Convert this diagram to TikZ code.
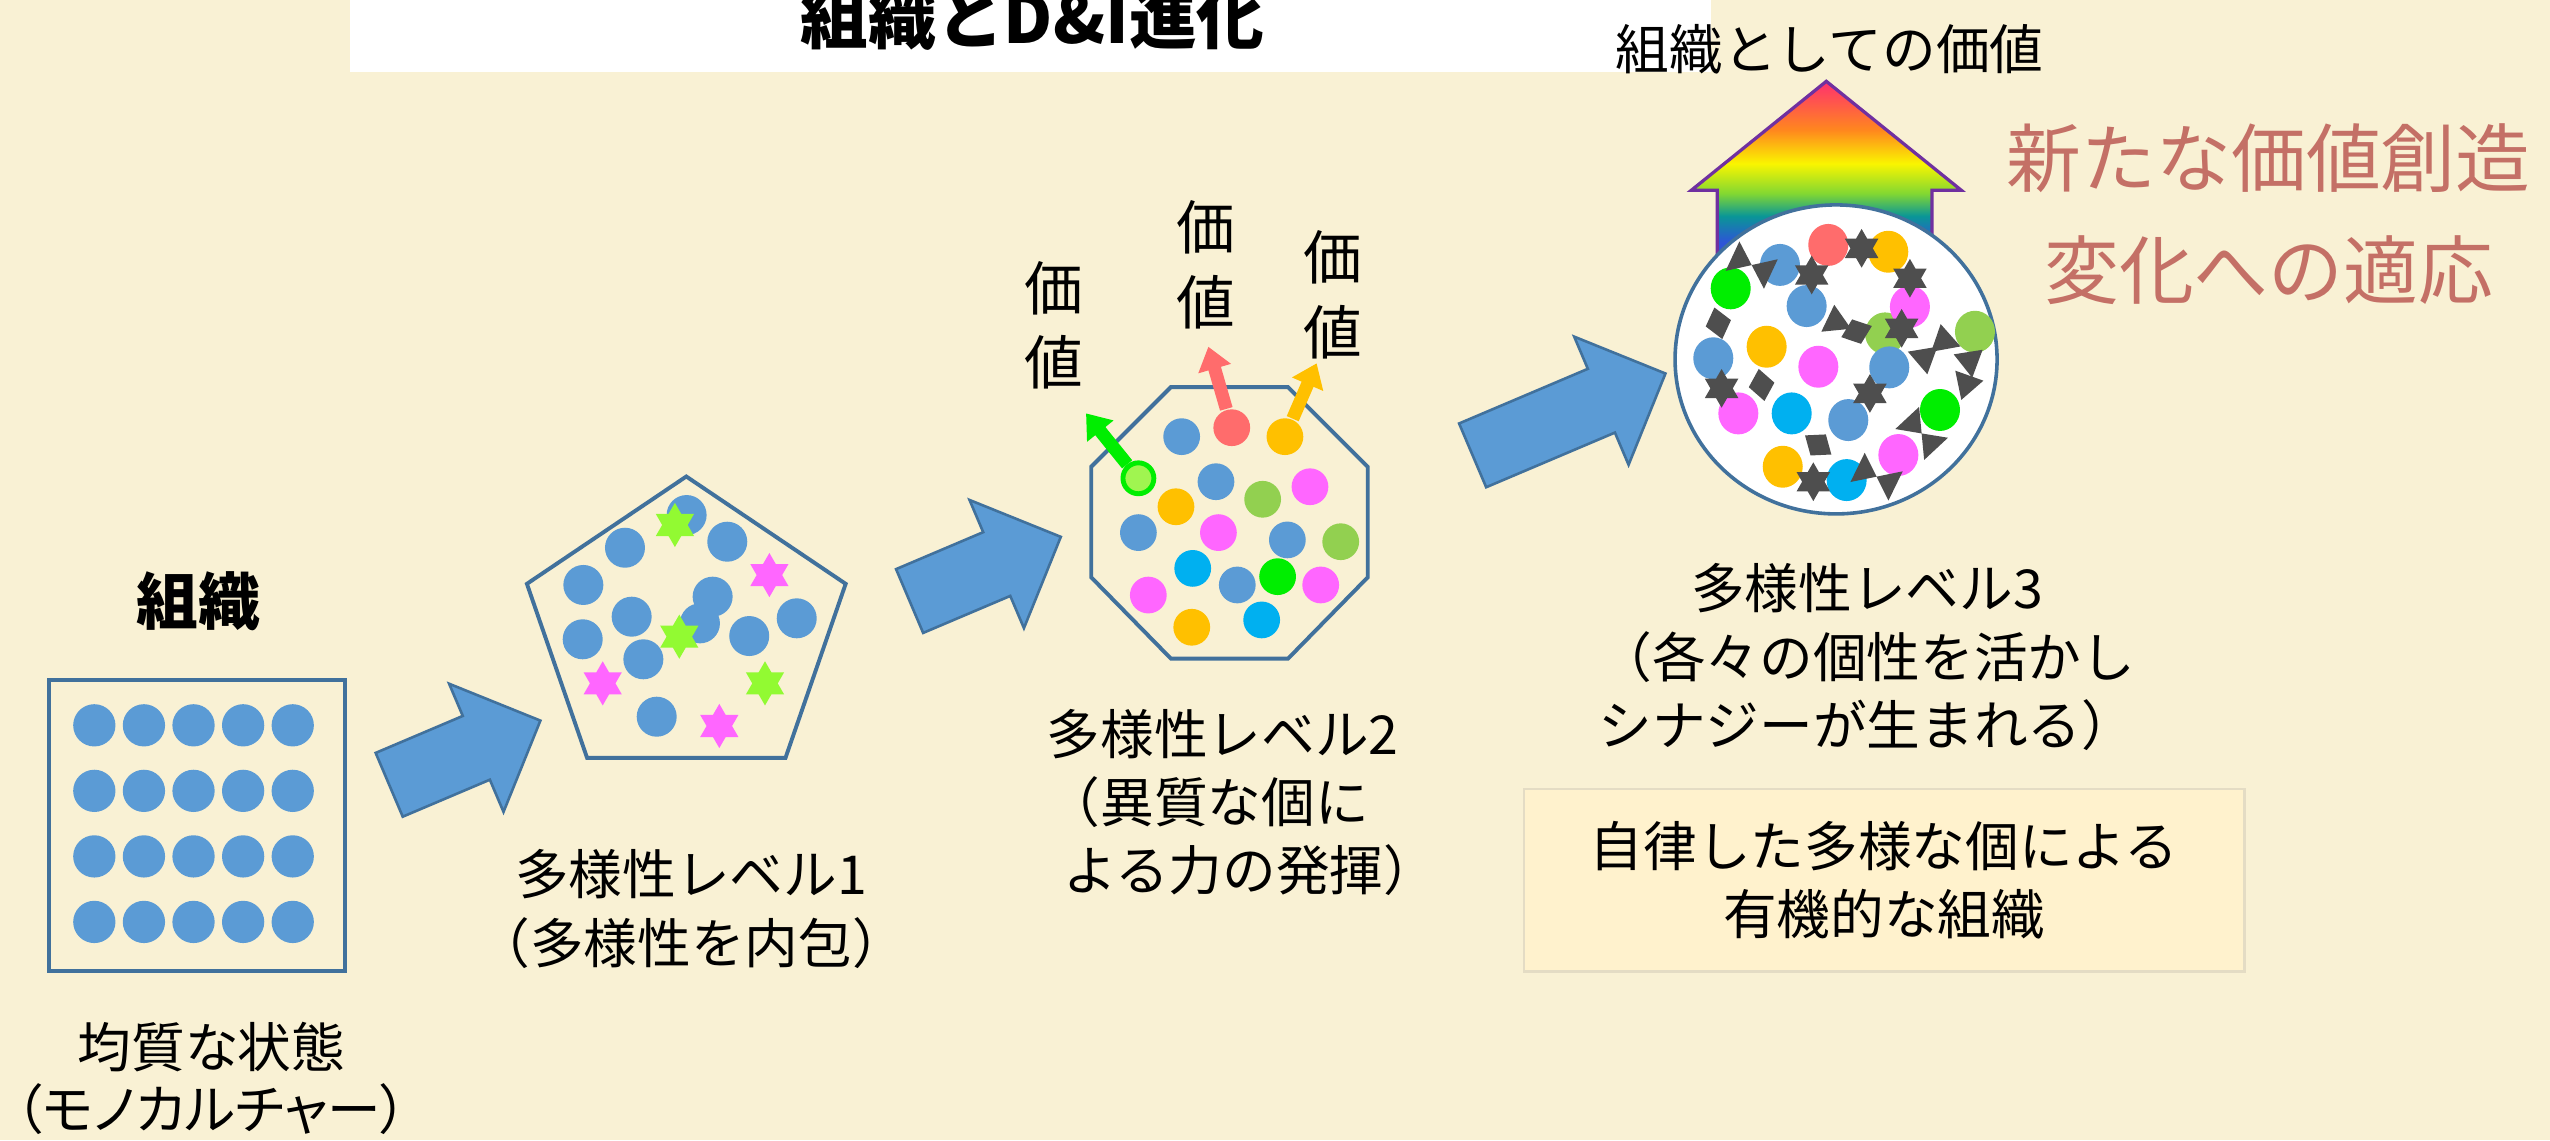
\documentclass[tikz,border=0pt]{standalone}
\usepackage{fontspec}
\setmainfont{Noto Sans CJK JP}
\usetikzlibrary{shapes.arrows,arrows.meta}

\definecolor{paper}{RGB}{249,241,212}
\definecolor{notebox}{RGB}{255,242,205}
\definecolor{noteedge}{RGB}{228,220,196}
\definecolor{frameblue}{RGB}{65,113,156}
\definecolor{dotblue}{RGB}{91,155,213}
\definecolor{dotred}{RGB}{255,108,108}
\definecolor{dotorange}{RGB}{255,192,0}
\definecolor{dotpink}{RGB}{255,102,255}
\definecolor{dotolive}{RGB}{146,208,80}
\definecolor{dotgreen}{RGB}{0,238,0}
\definecolor{dotcyan}{RGB}{0,176,240}
\definecolor{spotlime}{RGB}{160,245,80}
\definecolor{starlime}{RGB}{146,250,50}
\definecolor{linkgray}{RGB}{78,78,78}
\definecolor{slogred}{RGB}{196,112,102}
\definecolor{rbBlue}{RGB}{45,85,215}
\definecolor{rbTeal}{RGB}{10,150,150}
\definecolor{rbGreen}{RGB}{130,215,50}
\definecolor{rbYellow}{RGB}{250,245,0}
\definecolor{rbOrange}{RGB}{255,135,30}
\definecolor{rbRed}{RGB}{255,55,105}
\definecolor{rbEdge}{RGB}{112,48,160}

% rainbow for the value arrow, blue at the foot, red at the tip
\pgfdeclareverticalshading{rainbow}{100bp}{color(0bp)=(rbBlue); color(32bp)=(rbBlue); color(39bp)=(rbTeal); color(45bp)=(rbGreen); color(53bp)=(rbYellow); color(62bp)=(rbOrange); color(74bp)=(rbRed); color(100bp)=(rbRed)}

\newcommand\ttlfont{\bfseries\fontsize{20.8pt}{24pt}\selectfont}
\newcommand\orgfont{\bfseries\fontsize{19pt}{22pt}\selectfont}
\newcommand\lblfont{\fontsize{16.5pt}{21pt}\selectfont}
\newcommand\valfont{\fontsize{18pt}{23pt}\selectfont}
\newcommand\slogfont{\fontsize{23pt}{34.5pt}\selectfont}

\tikzset{every picture/.style={line width=0.75pt}}
\tikzset{
  stageline/.style={draw=frameblue, line width=1.2pt},
  bluearrow/.style={single arrow, draw=frameblue, fill=dotblue, line width=0.8pt,
    inner xsep=0pt, inner ysep=10.25pt, single arrow head extend=10.75pt,
    single arrow tip angle=90},
  spot/.style={circle, inner sep=0pt, minimum size=11.3pt},
  valarrow/.style={line width=4pt, -{Triangle[width=10pt,length=7pt]}},
  hexstar/.pic={\fill[#1] (90:14) -- (210:14) -- (330:14) -- cycle
                          (270:14) -- (30:14) -- (150:14) -- cycle;},
  bowtie/.pic={\fill[linkgray] (-13,-10) -- (0,0) -- (-13,10) -- cycle
                               (13,-10) -- (0,0) -- (13,10) -- cycle;},
  wedge/.pic={\fill[linkgray] (9,0) -- (-7,-9) -- (-7,9) -- cycle;},
  gem/.pic={\fill[linkgray] (-10,0) -- (0,-8) -- (10,0) -- (0,8) -- cycle;},
}

\begin{document}
\begin{tikzpicture}[x=0.5pt,y=0.5pt,yscale=-1,xscale=1]
\useasboundingbox (0,0) rectangle (1568,701);
\fill[paper] (0,0) rectangle (1568,701);

%Shape: title strip
\fill[white] (215,-5) rectangle (1052,44);
\node[font=\ttlfont, anchor=base] (title) at (635,27) {組織とD\&I進化};

% ---- homogeneous organisation ----
\node[font=\orgfont] (org) at (122,370) {組織};
\draw[stageline] (30,418) rectangle (212,597);
\foreach \i in {0,...,4}
  \foreach \j in {0,...,3}
    \fill[dotblue] (58+30.5*\i,446+40.3*\j) circle (13);
\node[font={\fontsize{16.5pt}{19pt}\selectfont\addfontfeatures{RawFeature=+palt}}, align=center, inner sep=0pt] (mono) at (130,663) {均質な状態\\（モノカルチャー）};

\node[bluearrow, minimum height=50.5pt, rotate=23] (stepA) at (276,467) {};

% ---- level 1: pentagon ----
\draw[stageline] (422,293) -- (520,359) -- (483,466) -- (361,466) -- (324,359) -- cycle;
\foreach \x/\y in {422.2/316.7, 384.3/336.8, 447.2/333.1, 358.7/359.7, 438.2/366.9,
                   388.4/379.2, 430.4/383.3, 489.9/380.2, 358.3/393.1, 460.7/391.1,
                   395.6/405.4, 403.8/440.7}
  \fill[dotblue] (\x,\y) circle (12.3);
\foreach \x/\y/\c in {415/322.8/starlime, 417.7/391.5/starlime, 470.4/420.2/starlime,
                      473.1/353.6/dotpink, 370.6/420.2/dotpink, 442.3/446.4/dotpink}
  \pic[scale=0.97] at (\x,\y) {hexstar=\c};
\node[font=\lblfont, align=center] (lvA) at (425,559) {多様性レベル1\\（多様性を内包）};

\node[bluearrow, minimum height=50.5pt, rotate=23] (stepB) at (596,354) {};

% ---- level 2: octagon ----
\draw[stageline] (720,238) -- (792,238) -- (841,287) -- (841,355) -- (792,405) -- (720,405) -- (671,355) -- (671,287) -- cycle;
\foreach \x/\y/\c in {726.6/268.5/dotblue, 747.7/296.2/dotblue, 805.5/299.3/dotpink,
                      776.4/307.0/dotolive, 723.1/311.6/dotorange, 700/327.5/dotblue,
                      749.2/327.5/dotpink, 791.6/332.0/dotblue, 824.4/333.1/dotolive,
                      733.4/349.5/dotcyan, 760.8/359.7/dotblue, 785.6/354.6/dotgreen,
                      812.1/359.7/dotpink, 706.1/365.9/dotpink, 732.8/385.7/dotorange,
                      775.8/381.2/dotcyan}
  \fill[\c] (\x,\y) circle (11.3);
\node[spot, fill=dotred] (redspot) at (757.4,263) {};
\node[spot, fill=dotorange] (orangespot) at (790.1,268.5) {};
\node[spot, fill=spotlime, draw=dotgreen, line width=1.5pt, minimum size=9.5pt] (greenspot) at (700,294.1) {};
\coordinate (redtip) at (743,213.2);
\coordinate (orangetip) at (809.6,223.4);
\coordinate (greentip) at (667.8,254.2);
\draw[valarrow, dotred] (redspot) -- (redtip);
\draw[valarrow, dotorange] (orangespot) -- (orangetip);
\draw[valarrow, dotgreen] (greenspot) -- (greentip);
\node[font=\valfont, align=center] (valA) at (648,200) {価\\値};
\node[font=\valfont, align=center] (valB) at (741.5,163) {価\\値};
\node[font=\valfont, align=center] (valC) at (819.4,181.4) {価\\値};
\node[font=\lblfont, align=left, anchor=west, inner sep=0pt] (lvB) at (643,493.5) {多様性レベル2\\（異質な個に\\\hspace{0.3em}よる力の発揮）};

\node[bluearrow, minimum height=64.4pt, rotate=23] (stepC) at (955,259) {};

% ---- level 3: circle with rainbow arrow ----
\node[font=\lblfont] (worth) at (1125,30) {組織としての価値};
\shade[shading=rainbow, draw=rbEdge, line width=1pt]
  (1123,50) -- (1206,117) -- (1188,117) -- (1188,165) -- (1056,165) -- (1056,117) -- (1040,117) -- cycle;
\filldraw[fill=white, draw=frameblue, line width=1.1pt] (1129,221) ellipse (99 and 95);
\foreach \x/\y/\c in {1124.2/150.6/dotred, 1161.1/154.8/dotorange, 1094.5/162.9/dotblue,
                      1064.2/177.3/dotgreen, 1110.9/188.2/dotblue, 1159.1/205/dotolive,
                      1174.4/188.6/dotpink, 1214.4/204/dotolive, 1086.3/213.2/dotorange,
                      1053.5/220.3/dotblue, 1118.1/225.5/dotpink, 1161.7/225.9/dotblue,
                      1068.9/254.2/dotpink, 1101.7/254.2/dotcyan, 1136.5/258.3/dotblue,
                      1192.9/252.1/dotgreen, 1167.3/279.8/dotpink, 1096.2/287/dotorange,
                      1135.5/295.2/dotcyan}
  \fill[\c] (\x,\y) ellipse (12.3 and 12.9);
% links between the members
\foreach \x/\y in {1114/169.1, 1144.7/152.7, 1174.4/171.1, 1169.3/201.9, 1115/296.2,
                   1149.8/241.9, 1058.6/238.8}
  \pic[scale=0.85] at (\x,\y) {hexstar=linkgray};
\foreach \x/\y/\a in {1077.1/163/-25, 1181.6/266.5/133, 1153.9/293.1/154}
  \pic[rotate=\a] at (\x,\y) {bowtie};
\foreach \x/\y/\a in {1127.3/198.8/-145, 1181.6/219.3/160, 1197/210.1/-19, 1211.3/223.4/-81, 1208.2/234.7/131}
  \pic[rotate=\a] at (\x,\y) {wedge};
\foreach \x/\y/\a in {1141.6/203.9/20, 1118/273.6/-36, 1056.6/198.8/104, 1083.2/236.7/100}
  \pic[rotate=\a] at (\x,\y) {gem};

\node[font=\slogfont, text=slogred, align=center] (slogan) at (1395,131.5) {新たな価値創造\\変化への適応};
\node[font=\lblfont, align=center] (lvC) at (1148,404) {多様性レベル3\\（各々の個性を活かし\\シナジーが生まれる）};
\node[draw=noteedge, fill=notebox, minimum width=221.5pt, minimum height=56.25pt,
      font=\lblfont, align=center] (note) at (1158.5,541.25) {自律した多様な個による\\有機的な組織};

\end{tikzpicture}
\end{document}
